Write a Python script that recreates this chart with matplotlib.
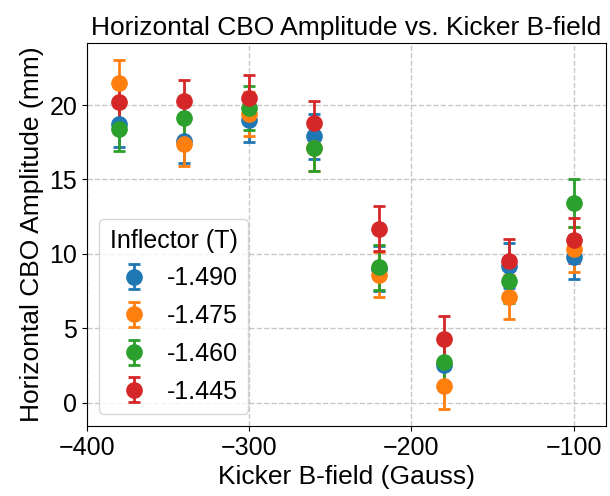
import matplotlib
matplotlib.use("Agg")
import matplotlib.pyplot as plt

plt.rcParams['font.family'] = ['Liberation Sans', 'DejaVu Sans']

kicker = [-380, -340, -300, -260, -220, -180, -140, -100]
inflectors = ["-1.490", "-1.475", "-1.460", "-1.445"]
colors = ["#1f77b4", "#ff7f0e", "#2ca02c", "#d62728"]

amp_1490 = [18.7, 17.6, 19.0, 17.9, 9.0, 2.5, 9.2, 9.8]
amp_1475 = [21.5, 17.4, 19.4, 17.1, 8.6, 1.1, 7.1, 10.3]
amp_1460 = [18.4, 19.1, 19.8, 17.1, 9.1, 2.7, 8.2, 13.4]
amp_1445 = [20.2, 20.3, 20.5, 18.8, 11.7, 4.3, 9.5, 10.9]

err_1490 = [1.5, 1.5, 1.5, 1.5, 1.5, 1.5, 1.5, 1.5]
err_1475 = [1.5, 1.5, 1.5, 1.5, 1.5, 1.5, 1.5, 1.5]
err_1460 = [1.5, 1.5, 1.5, 1.5, 1.5, 1.5, 1.5, 1.6]
err_1445 = [1.5, 1.4, 1.5, 1.5, 1.5, 1.5, 1.5, 1.5]

amps = [amp_1490, amp_1475, amp_1460, amp_1445]
errs = [err_1490, err_1475, err_1460, err_1445]

fig = plt.figure(figsize=(6.1, 4.96), dpi=100)
ax = fig.add_axes([0.1426, 0.1411, 0.8508, 0.7722])

for lab, c, a, e in zip(inflectors, colors, amps, errs):
    ax.errorbar(kicker, a, yerr=e, fmt='o', color=c, markersize=11,
                capsize=4, elinewidth=2, capthick=2, label=lab)

ax.set_xlim(-400, -80)
ax.set_xticks([-400, -300, -200, -100])
ax.set_yticks([0, 5, 10, 15, 20])
ax.grid(True, linestyle='--', color='#b0b0b0', alpha=0.7, linewidth=1)
ax.tick_params(labelsize=18)
ax.set_xlabel("Kicker B-field (Gauss)", fontsize=19)
ax.set_ylabel("Horizontal CBO Amplitude (mm)", fontsize=19)
ax.set_title("Horizontal CBO Amplitude vs. Kicker B-field", fontsize=19)
leg = ax.legend(title="Inflector (T)", loc='lower left', fontsize=18,
                title_fontsize=18, handletextpad=0.3, labelspacing=0.55)

fig.savefig("out.png", dpi=100)
